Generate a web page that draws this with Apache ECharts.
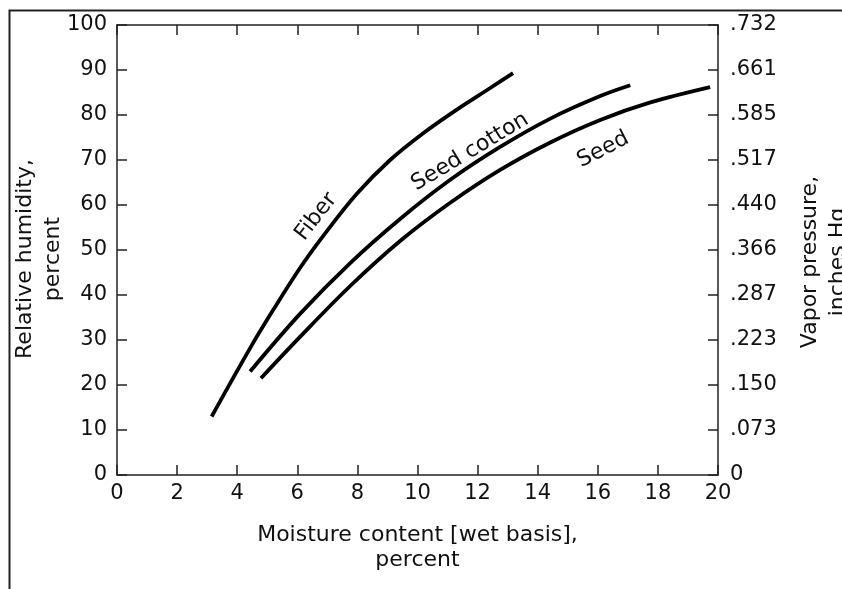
<!DOCTYPE html>
<html>
<head>
<meta charset="utf-8">
<script src="https://cdn.jsdelivr.net/npm/echarts@6/dist/echarts.min.js"></script>
<style>
html,body{margin:0;padding:0;background:#fff;}
#chart{width:842px;height:589px;}
</style>
</head>
<body>
<div id="chart"></div>
<script>
// Moisture content [wet basis] (%) vs relative humidity (%)
var fiberData = [[3.15,13.0],[4.43,28.2],[5.20,36.7],[6.09,46.0],[6.87,53.2],[7.98,62.5],[9.09,70.0],[10.20,76.0],[11.31,81.2],[12.42,86.0],[13.18,89.3]];
var seedCottonData = [[4.43,23.0],[6.09,35.8],[7.76,47.1],[9.42,56.9],[11.09,65.6],[12.75,72.9],[14.42,79.2],[16.08,84.2],[17.08,86.6]];
var seedData = [[4.79,21.5],[6.09,30.7],[7.76,42.0],[9.42,52.0],[11.09,60.5],[12.75,67.8],[14.42,73.9],[16.08,78.9],[17.75,82.8],[19.74,86.2]];
var seriesNames = ['Fiber', 'Seed cotton', 'Seed'];
var vaporLabels = ['0', '.073', '.150', '.223', '.287', '.366', '.440', '.517', '.585', '.661', '.732'];
var xTitle = 'Moisture content [wet basis],\npercent';
var yTitle = 'Relative humidity,\npercent';
var y2Title = 'Vapor pressure,\ninches Hg';

var FONT = 'DejaVu Sans';
var INK = '#111';
var axisLineStyle = {show: true, onZero: false, lineStyle: {color: '#222', width: 1.5}};
var tickStyle = {show: true, inside: true, length: 10, lineStyle: {color: '#222', width: 1.5}};

function curve(name, data, labelCoord, rot) {
  return {
    name: name, type: 'line', data: data, smooth: 0.35, showSymbol: false, symbol: 'none',
    lineStyle: {color: '#000', width: 3.8}, xAxisIndex: 0, yAxisIndex: 0,
    markPoint: {
      symbol: 'circle', symbolSize: 0, silent: true,
      label: {show: true, position: 'inside', formatter: name, rotate: rot,
        color: INK, fontFamily: FONT, fontSize: 22},
      data: [{coord: labelCoord}]
    }
  };
}

var chart = echarts.init(document.getElementById('chart'), null, {renderer: 'canvas'});
chart.setOption({
  animation: false,
  backgroundColor: '#fff',
  grid: {left: 117, right: 124, top: 25, bottom: 114, containLabel: false, outerBoundsMode: 'none'},
  xAxis: [{
    type: 'value', min: 0, max: 20, interval: 2, position: 'bottom',
    axisLine: axisLineStyle, axisTick: tickStyle, splitLine: {show: false},
    axisLabel: {color: INK, fontFamily: FONT, fontSize: 21, margin: 8},
    name: xTitle, nameLocation: 'middle', nameGap: 48, nameMoveOverlap: false,
    nameTextStyle: {color: INK, fontFamily: FONT, fontSize: 22, lineHeight: 25}
  }, {
    type: 'value', min: 0, max: 20, interval: 2, position: 'top',
    axisLine: axisLineStyle, axisTick: tickStyle, splitLine: {show: false},
    axisLabel: {show: false}
  }],
  yAxis: [{
    type: 'value', min: 0, max: 100, interval: 10, position: 'left',
    axisLine: axisLineStyle, axisTick: tickStyle, splitLine: {show: false},
    axisLabel: {color: INK, fontFamily: FONT, fontSize: 21, margin: 10},
    name: yTitle, nameLocation: 'middle', nameRotate: 90, nameGap: 50, nameMoveOverlap: false,
    nameTextStyle: {color: INK, fontFamily: FONT, fontSize: 22, lineHeight: 28, padding: [0, 18, 0, 0]}
  }, {
    type: 'value', min: 0, max: 100, interval: 10, position: 'right',
    axisLine: axisLineStyle, axisTick: tickStyle, splitLine: {show: false},
    axisLabel: {color: INK, fontFamily: FONT, fontSize: 21, margin: 12,
      formatter: function (v) { return vaporLabels[Math.round(v / 10)]; }},
    name: y2Title, nameLocation: 'middle', nameRotate: 90, nameGap: 78, nameMoveOverlap: false,
    nameTextStyle: {color: INK, fontFamily: FONT, fontSize: 22, lineHeight: 28, padding: [0, 24, 0, 0]}
  }],
  series: [
    curve(seriesNames[0], fiberData, [6.63, 57.4], 52),
    curve(seriesNames[1], seedCottonData, [11.75, 71.8], 31),
    curve(seriesNames[2], seedData, [16.18, 72.3], 27)
  ],
  graphic: [{
    type: 'polyline', silent: true,
    shape: {points: [[9.5, 589], [9.5, 10.5], [842, 10.5]]},
    style: {stroke: '#222', lineWidth: 2, fill: null}
  }]
});
</script>
</body>
</html>
